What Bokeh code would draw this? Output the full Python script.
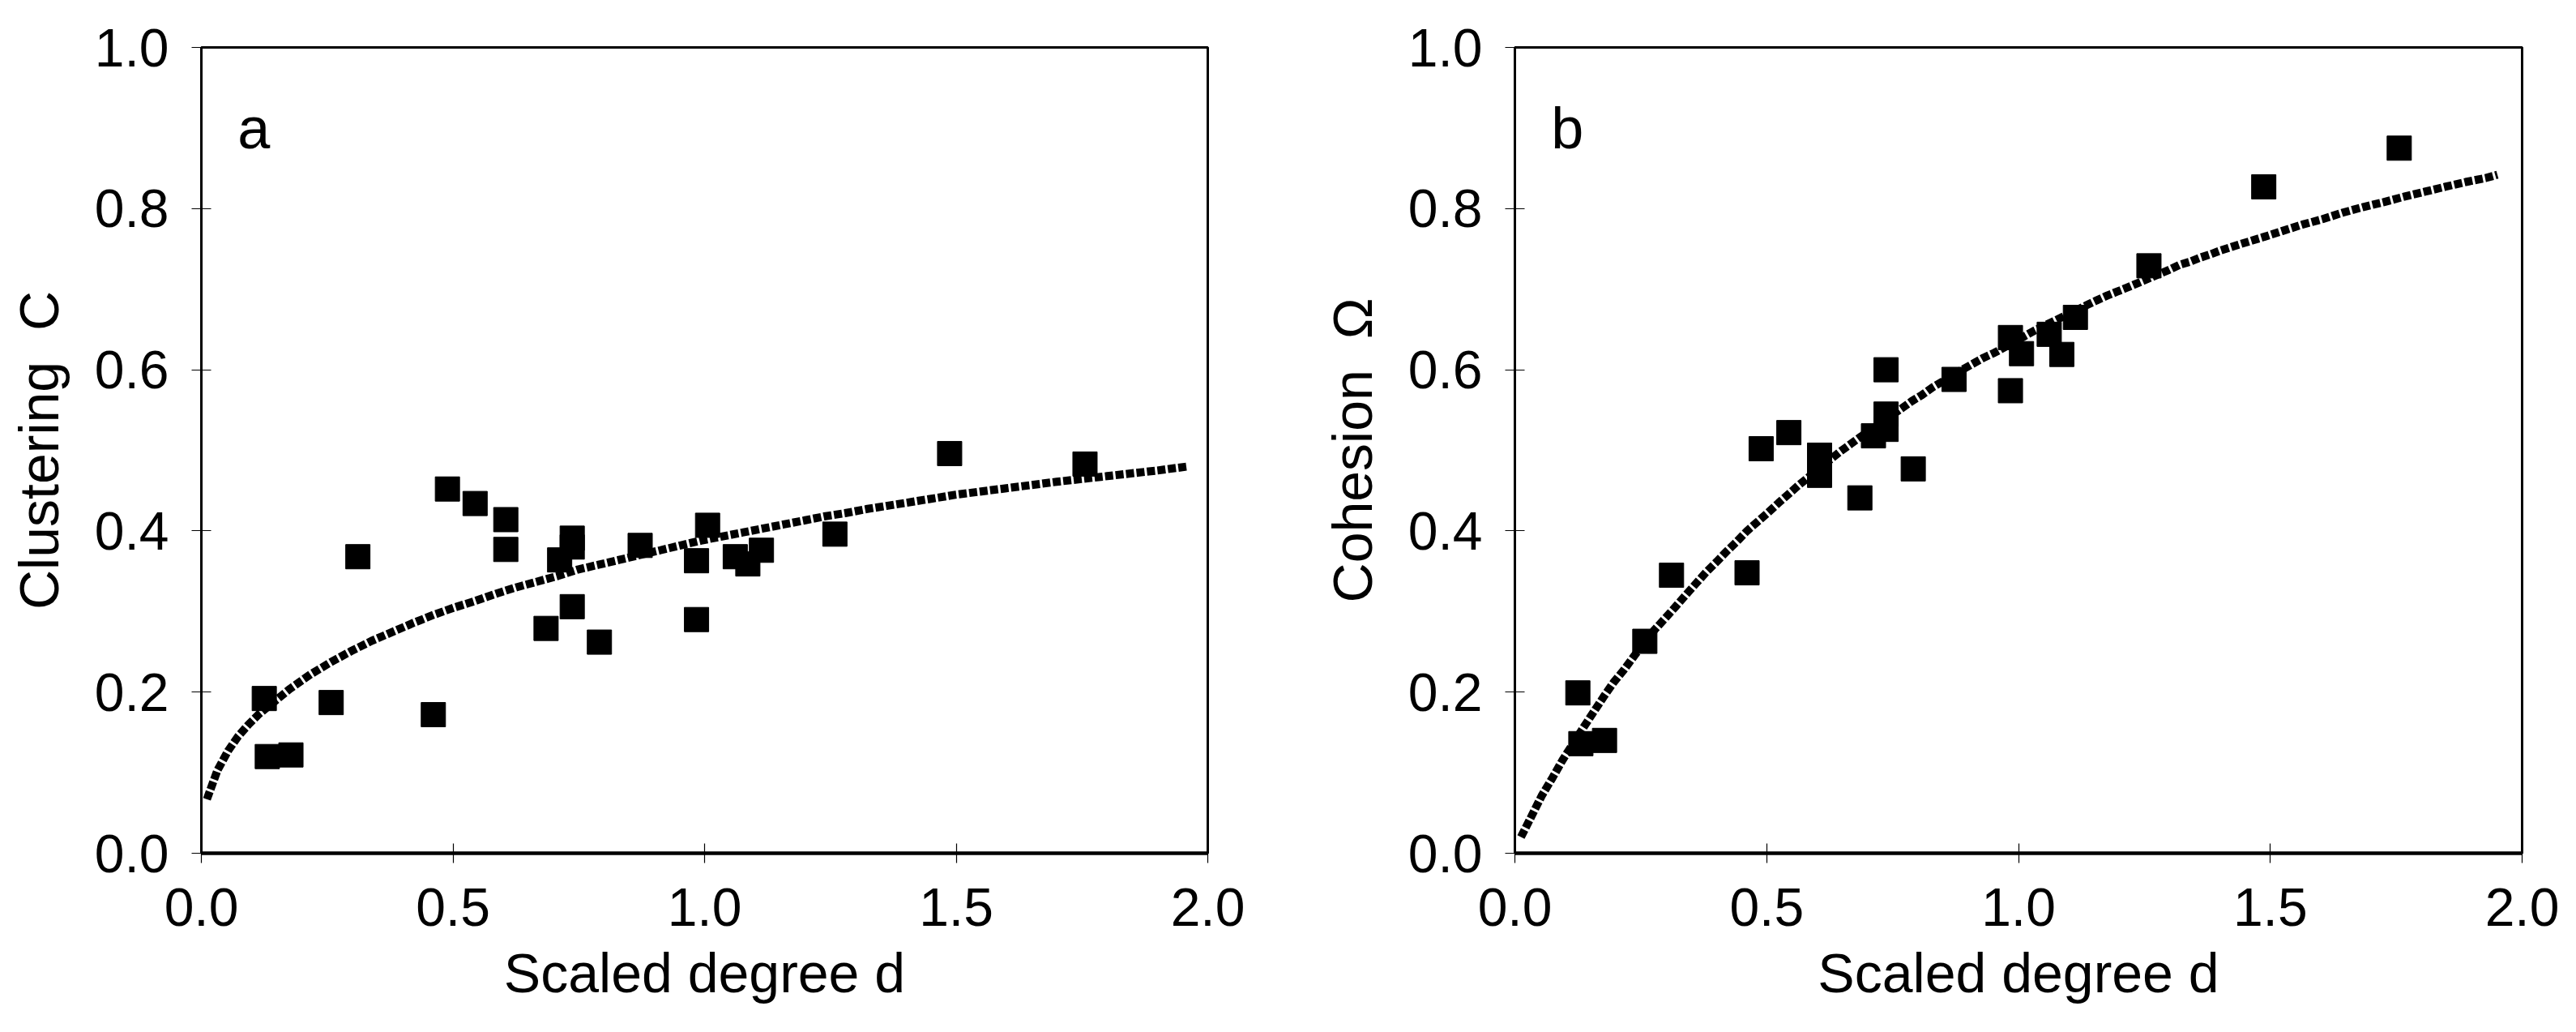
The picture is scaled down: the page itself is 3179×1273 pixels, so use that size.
from bokeh.plotting import figure
from bokeh.layouts import row
from bokeh.models import Range1d, FixedTicker, PrintfTickFormatter, Label
from bokeh.embed import file_html
from bokeh.resources import INLINE

# Scaled degree d (shared by both panels)
degree = [0.125, 0.131, 0.178, 0.258, 0.311, 0.461, 0.489, 0.544, 0.605, 0.605,
          0.685, 0.712, 0.737, 0.737, 0.737, 0.791, 0.872, 0.984, 0.984, 1.006,
          1.061, 1.086, 1.113, 1.259, 1.487, 1.756]
# Panel a: Clustering C
clustering = [0.192, 0.120, 0.122, 0.187, 0.368, 0.172, 0.452, 0.434, 0.414, 0.377,
              0.279, 0.364, 0.391, 0.380, 0.306, 0.262, 0.382, 0.363, 0.290, 0.407,
              0.368, 0.359, 0.376, 0.396, 0.496, 0.483]
# Panel b: Cohesion Omega
cohesion = [0.199, 0.136, 0.140, 0.263, 0.345, 0.348, 0.502, 0.522, 0.494, 0.469,
            0.441, 0.518, 0.545, 0.526, 0.600, 0.477, 0.588, 0.640, 0.574, 0.620,
            0.644, 0.619, 0.665, 0.729, 0.827, 0.875]

# Fitted trend curve, panel a
fit_a_x = [0.011, 0.032, 0.053, 0.073, 0.094, 0.115, 0.176, 0.217, 0.257, 0.298,
           0.340, 0.381, 0.422, 0.462, 0.503, 0.544, 0.585, 0.626, 0.667, 0.708,
           0.748, 0.789, 0.830, 0.871, 0.912, 0.952, 0.993, 1.034, 1.075, 1.116,
           1.157, 1.198, 1.238, 1.279, 1.321, 1.361, 1.402, 1.5, 1.6, 1.7, 1.8, 1.9, 1.96]
fit_a_y = [0.067, 0.103, 0.127, 0.145, 0.160, 0.173, 0.204, 0.222, 0.237, 0.251,
           0.264, 0.275, 0.286, 0.296, 0.305, 0.313, 0.322, 0.330, 0.337, 0.344,
           0.352, 0.358, 0.364, 0.370, 0.376, 0.382, 0.388, 0.393, 0.398, 0.403,
           0.408, 0.413, 0.418, 0.422, 0.427, 0.431, 0.435, 0.445, 0.453, 0.461, 0.468, 0.475, 0.480]

# Fitted trend curve, panel b
fit_b_x = [0.012, 0.033, 0.053, 0.075, 0.095, 0.136, 0.156, 0.176, 0.196, 0.217,
           0.237, 0.277, 0.299, 0.319, 0.340, 0.360, 0.380, 0.401, 0.421, 0.441,
           0.461, 0.483, 0.503, 0.524, 0.544, 0.564, 0.645, 0.667, 0.687, 0.768,
           0.788, 0.809, 0.829, 0.891, 0.911, 0.931, 0.952, 1.013, 1.033, 1.135,
           1.155, 1.176, 1.196, 1.216, 1.299, 1.319, 1.340, 1.360, 1.380, 1.401,
           1.441, 1.483, 1.523, 1.563, 1.604, 1.644, 1.685, 1.725, 1.767, 1.807,
           1.847, 1.888, 1.928, 1.951]
fit_b_y = [0.020, 0.046, 0.071, 0.094, 0.116, 0.156, 0.175, 0.194, 0.212, 0.228,
           0.245, 0.277, 0.292, 0.306, 0.321, 0.335, 0.349, 0.362, 0.375, 0.387,
           0.400, 0.412, 0.423, 0.435, 0.446, 0.457, 0.498, 0.508, 0.517, 0.552,
           0.561, 0.569, 0.578, 0.601, 0.608, 0.615, 0.621, 0.642, 0.649, 0.680,
           0.686, 0.692, 0.697, 0.702, 0.724, 0.730, 0.734, 0.739, 0.743, 0.748,
           0.756, 0.764, 0.772, 0.780, 0.787, 0.795, 0.802, 0.808, 0.815, 0.821,
           0.827, 0.833, 0.838, 0.842]

x_ticks = [0.0, 0.5, 1.0, 1.5, 2.0]
y_ticks = [0.0, 0.2, 0.4, 0.6, 0.8, 1.0]

FONT = "Liberation Sans"
NB = "\u00a0"


def make_panel(ys, fx, fy, ylabel, letter, width, left, right):
    p = figure(width=width, height=1252, x_range=Range1d(0, 2), y_range=Range1d(0, 1),
               output_backend="svg", toolbar_location=None,
               min_border_left=left, min_border_right=right,
               min_border_top=58, min_border_bottom=200)
    p.grid.visible = False
    p.background_fill_color = "white"
    p.border_fill_color = "white"
    p.outline_line_color = "black"
    p.outline_line_width = 3

    p.line(fx, fy, line_width=10, line_dash="10 3", color="black")
    p.scatter(degree, ys, marker="square", size=30, color="black")

    for ax in (p.xaxis[0], p.yaxis[0]):
        ax.major_label_text_font = FONT
        ax.major_label_text_font_size = "66px"
        ax.major_label_text_color = "black"
        ax.axis_label_text_font = FONT
        ax.axis_label_text_font_size = "68px"
        ax.axis_label_text_font_style = "normal"
        ax.axis_label_text_color = "black"
        ax.major_tick_in = 12
        ax.major_tick_out = 12
        ax.major_tick_line_width = 1.2
        ax.major_tick_line_color = "black"
        ax.minor_tick_line_color = None
        ax.axis_line_color = "black"
        ax.formatter = PrintfTickFormatter(format="%.1f")

    p.xaxis[0].ticker = FixedTicker(ticks=x_ticks)
    p.yaxis[0].ticker = FixedTicker(ticks=y_ticks)
    p.xaxis[0].axis_line_width = 4.5
    p.yaxis[0].axis_line_width = 3
    p.xaxis[0].major_label_standoff = 31
    p.xaxis[0].axis_label_standoff = 17
    p.yaxis[0].major_label_standoff = 28
    p.yaxis[0].axis_label_standoff = 28
    p.xaxis[0].axis_label = "Scaled degree d"
    p.yaxis[0].axis_label = ylabel

    p.add_layout(Label(x=0.072, y=0.900, text=letter, text_font=FONT,
                       text_font_size="72px", text_color="black",
                       text_baseline="alphabetic"))
    return p


pa = make_panel(clustering, fit_a_x, fit_a_y, "Clustering " + NB + "C", "a", 1620, 248, 130)
pb = make_panel(cohesion, fit_b_x, fit_b_y, "Cohesion " + NB + "\u03a9", "b", 1542, 249, 50)

layout = row(pa, pb)
open("out.html", "w").write(file_html(layout, INLINE))
